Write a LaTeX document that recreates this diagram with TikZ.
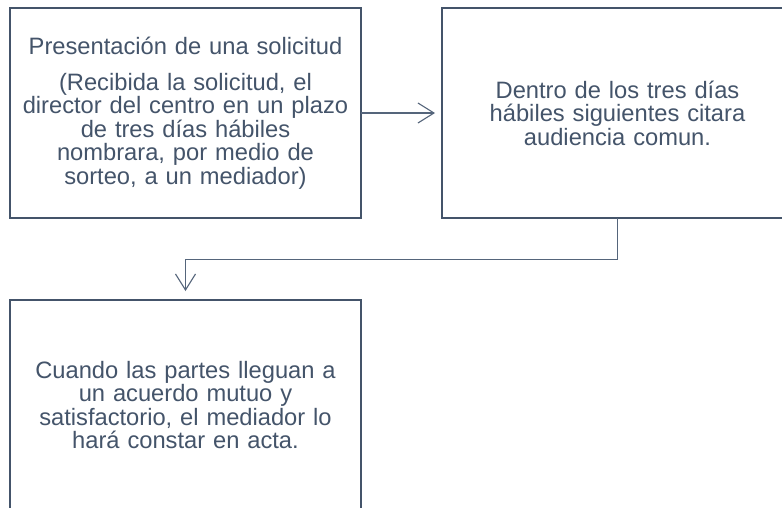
\documentclass[tikz,border=0pt]{standalone}
\usepackage{fontspec}
\setmainfont{Liberation Sans}
\usetikzlibrary{arrows.meta}
\definecolor{slate}{HTML}{44546A}
\definecolor{connc}{HTML}{55657B}
\tikzset{
  box/.style={draw=slate, line width=2pt, rectangle, inner sep=0pt, outer sep=0pt,
    minimum width=351pt, minimum height=210pt, text width=349pt, align=center,
    text=slate, font=\fontsize{23.7}{23.5}\selectfont},
  conn/.style={draw=connc, line width=1.1pt, -{Straight Barb[length=16pt,width=20pt]}}
}
\begin{document}
\begin{tikzpicture}[x=1pt,y=-1pt]
\clip (0,0) rectangle (782,507);
\fill[white] (0,0) rectangle (782,507);
\node[box] (b1) at (185.5,113) {Presentación de una solicitud\\[12pt]
(Recibida la solicitud, el\\ director del centro en un plazo\\ de tres días hábiles\\ nombrara, por medio de\\ sorteo, a un mediador)};
\node[box] (b2) at (617.5,113) {Dentro de los tres días\\ hábiles siguientes citara\\ audiencia comun.};
\node[box] (b3) at (185.5,405) {Cuando las partes lleguan a\\ un acuerdo mutuo y\\ satisfactorio, el mediador lo\\ hará constar en acta.};
\draw[conn, shorten >=7pt] (b1.east) -- (b2.west);
\draw[conn, shorten >=9pt] (b2.south) -- ++(0,41.3) -| (b3.north);
\end{tikzpicture}
\end{document}
